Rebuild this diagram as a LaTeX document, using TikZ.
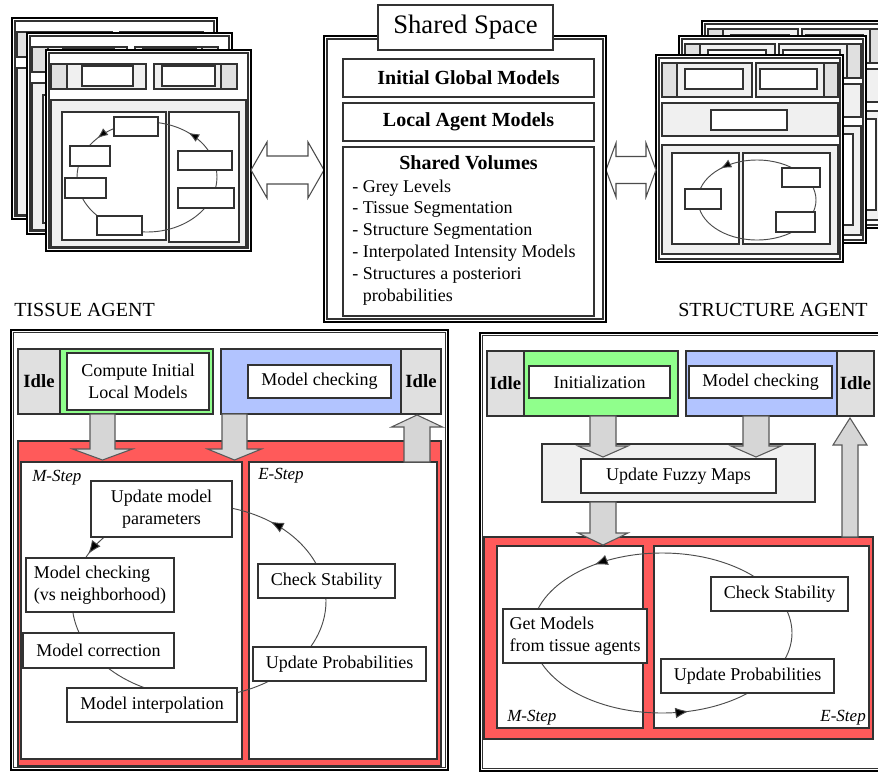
\documentclass[tikz,border=0pt]{standalone}
\usepackage{fontspec}
\setmainfont{Liberation Serif}
\usetikzlibrary{arrows.meta,decorations.markings}

\definecolor{idlegrey}{RGB}{224,224,224}
\definecolor{panelgrey}{RGB}{240,240,240}
\definecolor{initgreen}{RGB}{144,255,140}
\definecolor{checkblue}{RGB}{178,196,255}
\definecolor{emred}{RGB}{255,90,90}
\definecolor{arrowgrey}{RGB}{214,214,214}
\definecolor{edge}{RGB}{50,50,50}

\newcommand\boxfont{\fontsize{13.5}{16.5}\selectfont}
\newcommand\headfont{\fontsize{15}{18}\selectfont\bfseries}
\newcommand\titlefont{\fontsize{20}{24}\selectfont}
\newcommand\agentfont{\fontsize{15}{18}\selectfont}
\newcommand\stepfont{\fontsize{12.75}{15}\selectfont\itshape}
\newcommand\idlefont{\fontsize{14}{16}\selectfont\bfseries}

\tikzset{
  thinbox/.style={draw=edge, line width=0.8pt},
  boxbase/.style={thinbox, fill=white, inner sep=0pt, outer sep=0pt, align=center, font=\boxfont},
  frame/.style={draw=black, line width=1.9pt},
  blk/.style={draw=black!65, fill=arrowgrey, line width=0.8pt, line join=miter},
  dblarrow/.style={draw=black!70, fill=white, line width=0.8pt},
  cyclepath/.style={draw=black!70, line width=0.7pt},
  cyctip/.tip={Latex[length=10pt,width=8pt,fill=black]},
  smalltip/.tip={Latex[length=8pt,width=6.5pt,fill=black]},
  steplabel/.style={font=\stepfont, inner sep=0pt},
  listtext/.style={font=\boxfont, inner sep=0pt},
}

% box node given by its corners (pixel units)
\newcommand\bx[7][]{\node[boxbase,#1,minimum width={(#5-#3)*0.75pt},minimum height={(#6-#4)*0.75pt}] (#2) at ({(#3+#5)/2},{(#4+#6)/2}) {#7};}
% vertical block arrow: x, start y, tip y, shaft half width, head half width, head length (negative when pointing up)
\newcommand\blkarrow[6]{\draw[blk] ({#1-#4},{#2}) -- ({#1-#4},{#3-(#6)}) -- ({#1-#5},{#3-(#6)}) -- ({#1},{#3})
  -- ({#1+#5},{#3-(#6)}) -- ({#1+#4},{#3-(#6)}) -- ({#1+#4},{#2}) -- cycle;}

% one tissue agent sheet
\newcommand\tissuepage[2]{%
\begin{scope}[shift={(#1,#2)}]
  \draw[frame, fill=white] (0,0) rectangle (205,201);
  \draw[thinbox] (3,3) rectangle (202,198);
  \draw[thinbox, fill=panelgrey] (5,14) rectangle (100,39);
  \draw[thinbox, fill=idlegrey] (5,14) rectangle (21,39);
  \draw[thinbox, fill=white] (36,16) rectangle (87,36);
  \draw[thinbox, fill=panelgrey] (108,14) rectangle (191,39);
  \draw[thinbox, fill=idlegrey] (175,14) rectangle (191,39);
  \draw[thinbox, fill=white] (116,16) rectangle (169,36);
  \draw[thinbox, fill=panelgrey] (5,50) rectangle (200,197);
  \draw[thinbox, fill=white] (16,62) rectangle (120,190);
  \draw[thinbox, fill=white] (123,62) rectangle (193,192);
  \draw[cyclepath, postaction={decorate}, decoration={markings,
      mark=at position 0.615 with {\arrowreversed{smalltip}},
      mark=at position 0.86 with {\arrowreversed{smalltip}}}]
    (101,127) ellipse [x radius=70, y radius=55];
  \draw[thinbox, fill=white] (68,67) rectangle (112,86);
  \draw[thinbox, fill=white] (24,96) rectangle (64,116);
  \draw[thinbox, fill=white] (19,128) rectangle (60,148);
  \draw[thinbox, fill=white] (51,166) rectangle (96,185);
  \draw[thinbox, fill=white] (132,101) rectangle (186,120);
  \draw[thinbox, fill=white] (132,138) rectangle (188,158);
\end{scope}}

% one structure agent sheet
\newcommand\structpage[2]{%
\begin{scope}[shift={(#1,#2)}]
  \draw[frame, fill=white] (0,0) rectangle (187,207);
  \draw[thinbox] (3,3) rectangle (184,204);
  \draw[thinbox, fill=panelgrey] (6,8) rectangle (96,42);
  \draw[thinbox, fill=idlegrey] (6,8) rectangle (21,42);
  \draw[thinbox, fill=white] (29,14) rectangle (87,34);
  \draw[thinbox, fill=panelgrey] (100,8) rectangle (182,42);
  \draw[thinbox, fill=idlegrey] (168,8) rectangle (182,42);
  \draw[thinbox, fill=white] (104,14) rectangle (161,34);
  \draw[thinbox, fill=panelgrey] (6,48) rectangle (182,81);
  \draw[thinbox, fill=white] (55,55) rectangle (131,75);
  \draw[thinbox, fill=panelgrey] (6,90) rectangle (182,199);
  \draw[thinbox, fill=white] (16,98) rectangle (83,189);
  \draw[thinbox, fill=white] (87,98) rectangle (174,189);
  \draw[cyclepath, postaction={decorate}, decoration={markings,
      mark=at position 0.63 with {\arrowreversed{smalltip}}}]
    (101,145) ellipse [x radius=59, y radius=40];
  \draw[thinbox, fill=white] (29,134) rectangle (65,154);
  \draw[thinbox, fill=white] (126,113) rectangle (164,132);
  \draw[thinbox, fill=white] (120,157) rectangle (159,177);
\end{scope}}

\begin{document}
\begin{tikzpicture}[x=0.75pt, y=-0.75pt]
\useasboundingbox (0,0) rectangle (878,772);
\fill[white] (0,0) rectangle (878,772);

% ---- agent sheet stacks ----
\tissuepage{12}{18}
\tissuepage{27}{33}
\tissuepage{46}{50}

\structpage{702}{21}
\structpage{679}{36}
\structpage{656}{55}

% ---- exchange arrows ----
\draw[dblarrow] (251,170) -- (267,142) -- (267,156) -- (308,156) -- (308,142) -- (324,170)
  -- (308,198) -- (308,184) -- (267,184) -- (267,198) -- cycle;
\draw[dblarrow] (606,170) -- (616,143) -- (616,156.5) -- (646,156.5) -- (646,143) -- (656,170)
  -- (646,197) -- (646,183.5) -- (616,183.5) -- (616,197) -- cycle;

% ---- shared space ----
\draw[frame, fill=white] (324,36) rectangle (606,322);
\draw[thinbox] (327,39) rectangle (603,319);
\bx[font=\titlefont]{ss}{378}{5}{553}{50}{Shared Space}
\bx[font=\headfont]{igm}{343}{59}{594}{97}{Initial Global Models}
\bx[font=\headfont]{lam}{343}{103}{594}{141}{Local Agent Models}
\bx{svbox}{343}{147}{594}{316}{}
\node[font=\headfont, inner sep=0pt, anchor=base] (svt) at (468.5,169) {Shared Volumes};
\foreach \t [count=\i] in {- Grey Levels, - Tissue Segmentation, - Structure Segmentation,
    - Interpolated Intensity Models, - Structures a posteriori}
  \node[listtext, anchor=base west] (sv\i) at (352,{192+(\i-1)*21.8}) {\t};
\node[listtext, anchor=base west] (sv6) at (352,301) {\phantom{- }probabilities};

% ---- agent titles ----
\node[font=\agentfont, inner sep=0pt, anchor=base west] (tissuetitle) at (14,316) {TISSUE AGENT};
\node[font=\agentfont, inner sep=0pt, anchor=base west] (structtitle) at (678,316) {STRUCTURE AGENT};

% ---- tissue agent behaviour ----
\draw[frame] (11,330) rectangle (448,770);
\draw[thinbox] (13.5,332.5) rectangle (445.5,767.5);
\draw[thinbox, fill=emred] (18,441) rectangle (441,766);
\draw[thinbox, fill=white] (21,462) rectangle (242,759);
\draw[thinbox, fill=white] (249,462) rectangle (437,759);

\bx[fill=idlegrey, font=\idlefont]{idleA}{18}{349}{60}{414}{Idle}
\draw[thinbox, fill=initgreen] (60,349) rectangle (213,414);
\bx{cim}{67}{353}{209}{410}{Compute Initial\\Local Models}
\draw[thinbox, fill=checkblue] (221,349) rectangle (401,414);
\bx{mcA}{248}{365}{391}{398}{Model checking}
\bx[fill=idlegrey, font=\idlefont]{idleB}{401}{349}{441}{414}{Idle}

\blkarrow{102.5}{414}{460}{12.5}{30}{11}
\blkarrow{234.5}{414}{460}{12.5}{27}{11}
\blkarrow{417}{462}{415}{13}{25.5}{-12}

\node[steplabel, anchor=base west] (mstepA) at (32,481) {M-Step};
\node[steplabel, anchor=base west] (estepA) at (258,479) {E-Step};

\draw[cyclepath, postaction={decorate}, decoration={markings,
    mark=at position 0.572 with {\arrowreversed{cyctip}},
    mark=at position 0.855 with {\arrowreversed{cyctip}}}]
  (199,601) ellipse [x radius=127, y radius=96];

\bx{ump}{91}{481}{232}{537}{Update model\\parameters}
\bx[align=left]{mcn}{26}{558}{174}{612}{Model checking\\(vs neighborhood)}
\bx{mco}{23}{633}{174}{668}{Model correction}
\bx{minterp}{67}{688}{237}{722}{Model interpolation}
\bx{csA}{258}{564}{395}{598}{Check Stability}
\bx{upA}{253}{647}{426}{681}{Update Probabilities}

% ---- structure agent behaviour ----
\draw[frame] (480,333) rectangle (890,771);
\draw[thinbox] (482.5,335.5) rectangle (887,768.5);

\bx[fill=idlegrey, font=\idlefont]{idleC}{487}{351}{524}{416}{Idle}
\draw[thinbox, fill=initgreen] (524,351) rectangle (678,416);
\bx{ini}{529}{366}{670}{398}{Initialization}
\draw[thinbox, fill=checkblue] (686,351) rectangle (837,416);
\bx{mcB}{689}{366}{832}{398}{Model checking}
\bx[fill=idlegrey, font=\idlefont]{idleD}{837}{351}{874}{416}{Idle}

\draw[thinbox, fill=panelgrey] (542,444) rectangle (815,502);
\blkarrow{603}{416}{457}{13}{25}{11}
\blkarrow{756}{416}{457}{13}{25}{11}
\bx{ufm}{581}{459}{776}{493}{Update Fuzzy Maps}

\draw[thinbox, fill=emred] (484,537) rectangle (873,739);
\draw[thinbox, fill=white] (497,546) rectangle (643,728);
\draw[thinbox, fill=white] (654,546) rectangle (869,728);
\blkarrow{603}{502}{545}{13}{25}{12}
\blkarrow{850}{537}{418}{8}{17}{-27}

\draw[cyclepath, postaction={decorate}, decoration={markings,
    mark=at position 0.21 with {\arrowreversed{cyctip}},
    mark=at position 0.647 with {\arrowreversed{cyctip}}}]
  (662,633) ellipse [x radius=130, y radius=80];

\bx[align=left]{gm}{503}{609}{647}{663}{Get Models\\from tissue agents}
\bx{csB}{711}{577}{848}{611}{Check Stability}
\bx{upB}{661}{659}{834}{693}{Update Probabilities}

\node[steplabel, anchor=base west] (mstepB) at (507,721) {M-Step};
\node[steplabel, anchor=base east] (estepB) at (866,721) {E-Step};
\end{tikzpicture}
\end{document}
